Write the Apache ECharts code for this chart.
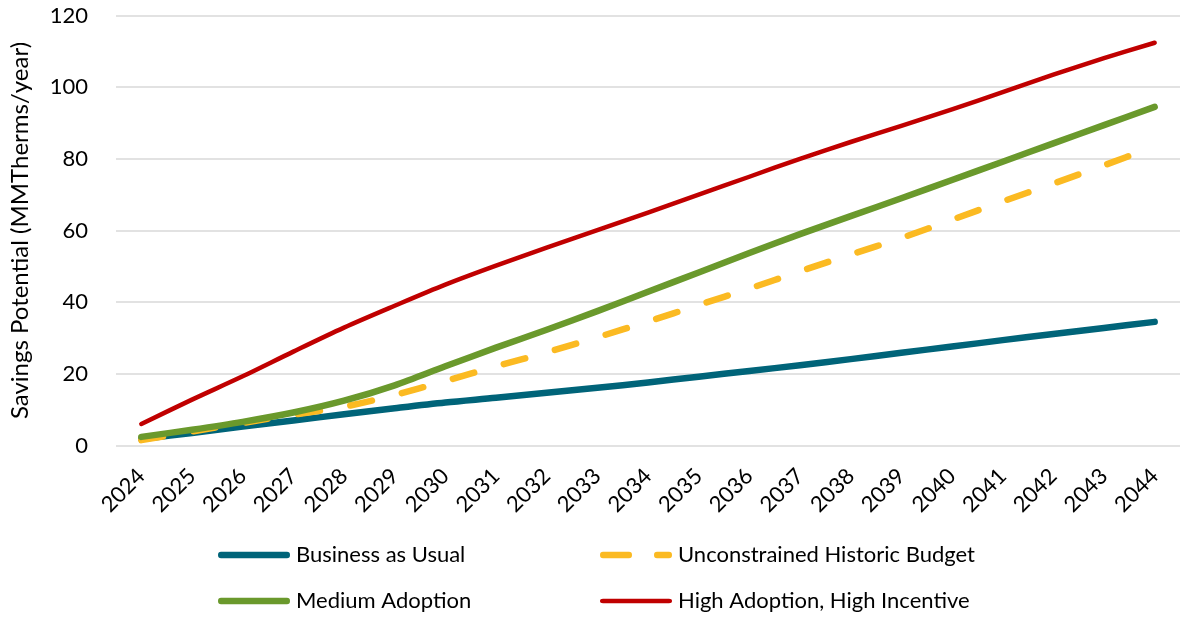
<!DOCTYPE html>
<html>
<head>
<meta charset="utf-8">
<script src="https://cdn.jsdelivr.net/npm/echarts@6/dist/echarts.min.js"></script>
<style>
html,body{margin:0;padding:0;background:#fff;}
#chart{width:1180px;height:618px;}
</style>
</head>
<body>
<div id="chart"></div>
<script>
const years = ['2024','2025','2026','2027','2028','2029','2030','2031','2032','2033','2034','2035','2036','2037','2038','2039','2040','2041','2042','2043','2044'];
const businessAsUsual = [1.8,3.5,5.3,7.0,8.7,10.4,12.0,13.3,14.7,16.1,17.6,19.2,20.8,22.4,24.1,25.9,27.6,29.4,31.1,32.8,34.5];
const unconstrainedHistoric = [1.5,3.9,6.3,8.6,10.8,14.1,18.0,22.1,26.0,30.2,34.6,39.2,43.8,48.6,53.3,57.9,63.0,68.1,73.1,78.2,83.4];
const mediumAdoption = [2.4,4.4,6.6,9.2,12.5,16.8,22.1,27.3,32.3,37.5,42.9,48.3,53.7,59.0,64.0,69.0,74.1,79.2,84.3,89.4,94.5];
const highAdoption = [6.0,12.8,19.3,26.2,32.9,39.0,44.9,50.2,55.2,60.1,65.0,70.0,75.0,80.0,84.7,89.2,93.8,98.6,103.5,108.1,112.4];
const seriesNames = ['Business as Usual','Unconstrained Historic Budget','Medium Adoption','High Adoption, High Incentive'];
const yTicks = { min: 0, max: 120, interval: 20 };

const FONT = 'Lato';
const colors = ['#006479', '#FBBA22', '#6A992C', '#C00000'];
const chart = echarts.init(document.getElementById('chart'));

const solidIcon = 'path://M3,0 H69 A3,3 0 0 1 69,6 H3 A3,3 0 0 1 3,0 Z';
const dashIcon = 'path://M3,0 H29 A3,3 0 0 1 29,6 H3 A3,3 0 0 1 3,0 Z M57,0 H69 A3,3 0 0 1 69,6 H57 A3,3 0 0 1 57,0 Z';

function legendAt(name, icon, h, left, top) {
  return {
    data: [{ name: name, icon: icon }], left: left, top: top, orient: 'horizontal',
    padding: 0, itemWidth: 72, itemHeight: h, itemGap: 0, symbolKeepAspect: false,
    textStyle: { fontFamily: FONT, fontSize: 22, lineHeight: 22, color: '#000', padding: [0, 0, 0, 1] },
    selectedMode: false
  };
}

chart.setOption({
  animation: false,
  backgroundColor: '#fff',
  grid: { left: 107, top: 15.5, width: 1079, height: 430, containLabel: false },
  legend: [
    legendAt(seriesNames[0], solidIcon, 6.5, 218, 544),
    legendAt(seriesNames[1], dashIcon, 6.5, 600, 544),
    legendAt(seriesNames[2], solidIcon, 6.5, 218, 590),
    legendAt(seriesNames[3], solidIcon, 4.5, 600, 590)
  ],
  xAxis: {
    type: 'category', data: years, boundaryGap: true,
    axisLine: { show: false }, axisTick: { show: false },
    axisLabel: { rotate: 45, margin: 27, fontFamily: FONT, fontSize: 22, color: '#000' }
  },
  yAxis: {
    type: 'value', min: yTicks.min, max: yTicks.max, interval: yTicks.interval,
    name: 'Savings Potential (MMTherms/year)', nameLocation: 'middle', nameGap: 84,
    nameTextStyle: { fontFamily: FONT, fontSize: 24, color: '#000' },
    axisLine: { show: false }, axisTick: { show: false },
    axisLabel: { margin: 28, fontFamily: FONT, fontSize: 22, color: '#000' },
    splitLine: { lineStyle: { color: '#d9d9d9', width: 1.5 } }
  },
  series: [
    { name: seriesNames[0], type: 'line', data: businessAsUsual, smooth: 0.3, symbol: 'none',
      lineStyle: { color: colors[0], width: 6.5, cap: 'round', join: 'round' }, itemStyle: { color: colors[0] } },
    { name: seriesNames[1], type: 'line', data: unconstrainedHistoric, smooth: 0.3, symbol: 'none',
      lineStyle: { color: colors[1], width: 6.5, type: [22, 31], cap: 'round', join: 'round' }, itemStyle: { color: colors[1] } },
    { name: seriesNames[2], type: 'line', data: mediumAdoption, smooth: 0.3, symbol: 'none',
      lineStyle: { color: colors[2], width: 6.5, cap: 'round', join: 'round' }, itemStyle: { color: colors[2] } },
    { name: seriesNames[3], type: 'line', data: highAdoption, smooth: 0.3, symbol: 'none',
      lineStyle: { color: colors[3], width: 4.5, cap: 'round', join: 'round' }, itemStyle: { color: colors[3] } }
  ]
});
</script>
</body>
</html>
